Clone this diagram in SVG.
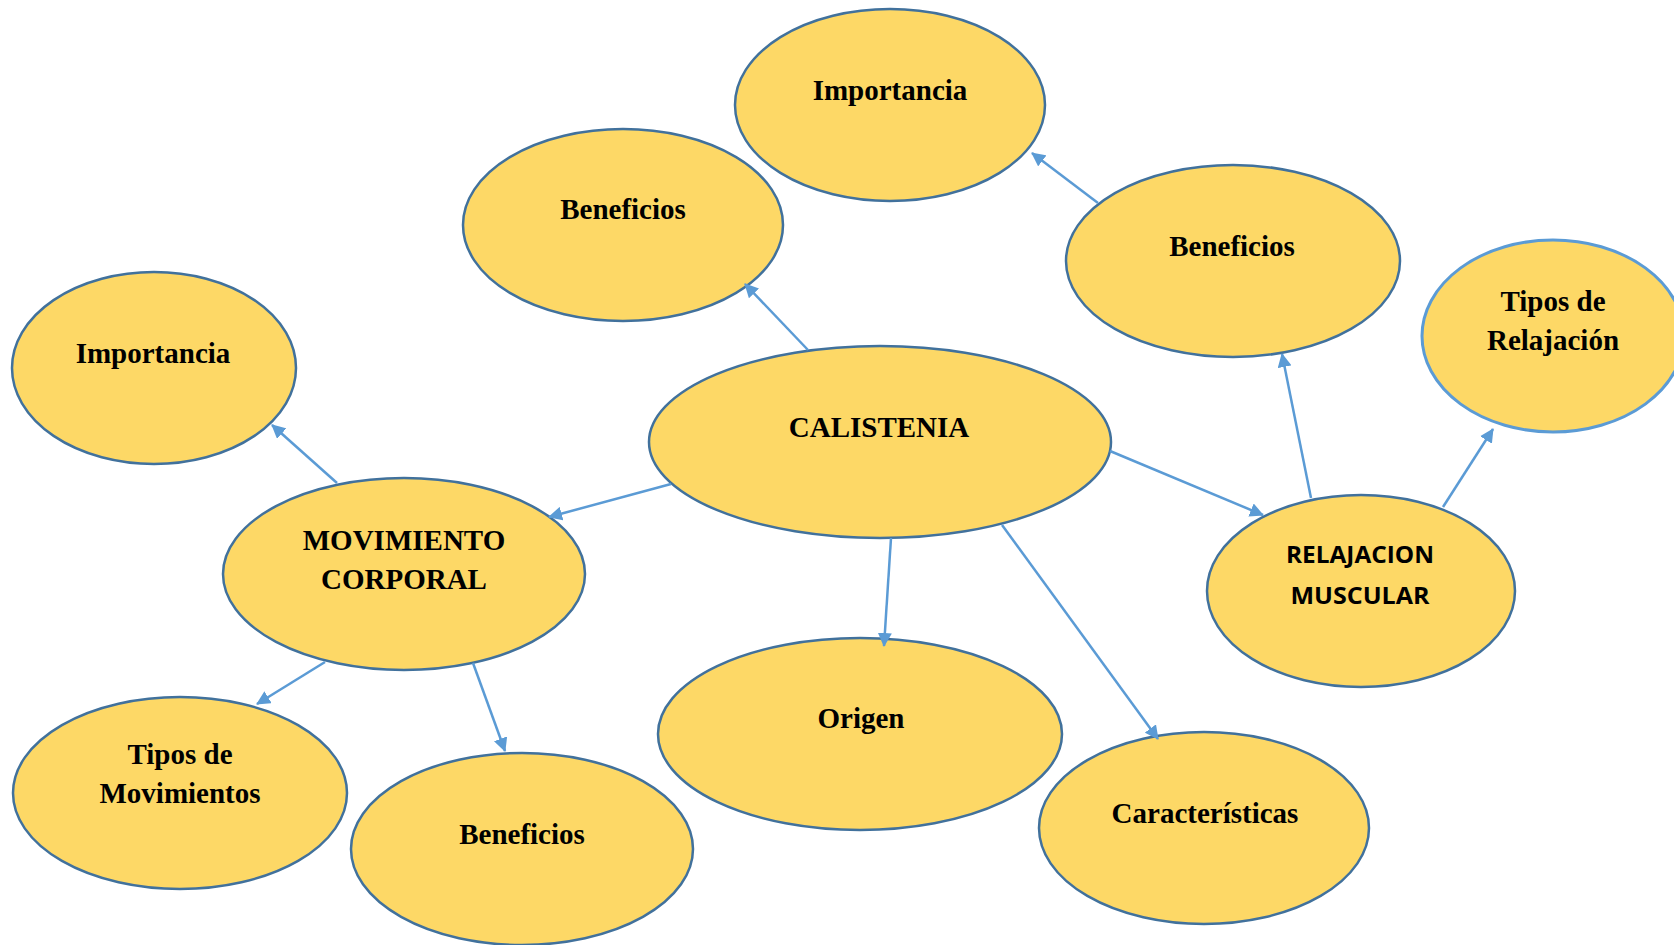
<svg xmlns="http://www.w3.org/2000/svg" width="1674" height="945" viewBox="0 0 1674 945">
<style>
.node{fill:#fdd866;stroke:#41719c;stroke-width:2.5}
.node2{fill:#fdd866;stroke:#5b9bd5;stroke-width:3}
.t{font-family:"Liberation Serif","Times New Roman",serif;font-weight:bold;font-size:29px;fill:#000;text-anchor:middle}
.c{font-family:"Open Sans","Noto Sans",sans-serif;font-weight:bold;font-size:24px;fill:#000;text-anchor:middle}
.edge{stroke:#5b9bd5;stroke-width:2.5;fill:none;marker-end:url(#arr)}
</style>
<defs>
<marker id="arr" viewBox="0 0 14 14" refX="13" refY="7" markerWidth="14" markerHeight="14" markerUnits="userSpaceOnUse" orient="auto">
<path d="M0,0 L14,7 L0,14 z" fill="#5b9bd5"/>
</marker>
</defs>
<rect width="1674" height="945" fill="#fff"/>
<g id="n-importancia-top"><ellipse class="node" cx="890" cy="105" rx="155" ry="96"/><text class="t" x="890" y="100">Importancia</text></g>
<g id="n-beneficios-tl"><ellipse class="node" cx="623" cy="225" rx="160" ry="96"/><text class="t" x="623" y="219">Beneficios</text></g>
<g id="n-beneficios-r"><ellipse class="node" cx="1233" cy="261" rx="167" ry="96"/><text class="t" x="1232" y="256">Beneficios</text></g>
<g id="n-tipos-relajacion"><ellipse class="node2" cx="1553" cy="336" rx="131" ry="96"/><text class="t" x="1553" y="311">Tipos de</text><text class="t" x="1553" y="350">Relajación</text></g>
<g id="n-importancia-l"><ellipse class="node" cx="154" cy="368" rx="142" ry="96"/><text class="t" x="153" y="363">Importancia</text></g>
<g id="n-calistenia"><ellipse class="node" cx="880" cy="442" rx="231" ry="96"/><text class="t" x="879" y="437">CALISTENIA</text></g>
<g id="n-movimiento"><ellipse class="node" cx="404" cy="574" rx="181" ry="96"/><text class="t" x="404" y="550">MOVIMIENTO</text><text class="t" x="404" y="589">CORPORAL</text></g>
<g id="n-relajacion"><ellipse class="node" cx="1361" cy="591" rx="154" ry="96"/><text class="c" x="1360" y="563" textLength="148" lengthAdjust="spacingAndGlyphs">RELAJACION</text><text class="c" x="1360" y="604" textLength="139" lengthAdjust="spacingAndGlyphs">MUSCULAR</text></g>
<g id="n-tipos-movimientos"><ellipse class="node" cx="180" cy="793" rx="167" ry="96"/><text class="t" x="180" y="764">Tipos de</text><text class="t" x="180" y="803">Movimientos</text></g>
<g id="n-beneficios-b"><ellipse class="node" cx="522" cy="849" rx="171" ry="96"/><text class="t" x="522" y="844">Beneficios</text></g>
<g id="n-origen"><ellipse class="node" cx="860" cy="734" rx="202" ry="96"/><text class="t" x="861" y="728">Origen</text></g>
<g id="n-caracteristicas"><ellipse class="node" cx="1204" cy="828" rx="165" ry="96"/><text class="t" x="1205" y="823">Características</text></g>
<g id="connectors">
<line class="edge" x1="808" y1="350" x2="745" y2="284"/>
<line class="edge" x1="1098" y1="203" x2="1032" y2="153"/>
<line class="edge" x1="671" y1="484" x2="549" y2="517"/>
<line class="edge" x1="337" y1="483" x2="272" y2="425"/>
<line class="edge" x1="325" y1="662" x2="257" y2="704"/>
<line class="edge" x1="473" y1="663" x2="505" y2="751"/>
<line class="edge" x1="891" y1="538" x2="884" y2="646"/>
<line class="edge" x1="1002" y1="525" x2="1158" y2="739"/>
<line class="edge" x1="1110" y1="451" x2="1263" y2="515"/>
<line class="edge" x1="1311" y1="498" x2="1282" y2="354"/>
<line class="edge" x1="1443" y1="507" x2="1493" y2="429"/>
</g>
</svg>
